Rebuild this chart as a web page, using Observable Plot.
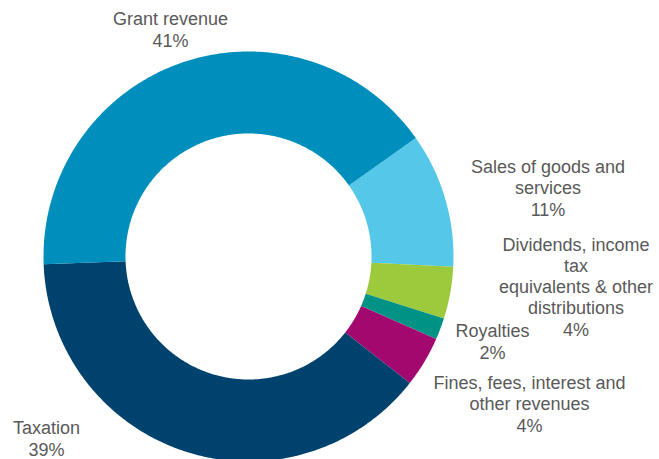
<!DOCTYPE html>
<html>
<head>
<meta charset="utf-8">
<script src="https://cdn.jsdelivr.net/npm/d3@7"></script>
<script src="https://cdn.jsdelivr.net/npm/@observablehq/plot@0.6"></script>
<style>
  html, body { margin: 0; padding: 0; background: #ffffff; }
  #chart svg { display: block; }
</style>
</head>
<body>
<div id="chart"></div>
<script>
// ---- Data (clockwise order starting at the Grant/Sales boundary) ----
const categories = [
  "Sales of goods and services",
  "Dividends, income tax equivalents & other distributions",
  "Royalties",
  "Fines, fees, interest and other revenues",
  "Taxation",
  "Grant revenue"
];
const shares = [10.6, 4.1, 1.7, 4.0, 38.8, 40.8];
const labelNames = [
  "Sales of goods and\nservices",
  "Dividends, income\ntax\nequivalents & other\ndistributions",
  "Royalties",
  "Fines, fees, interest and\nother revenues",
  "Taxation",
  "Grant revenue"
];
const colors = ["#55c7e8", "#9dc93c", "#009385", "#a3086f", "#00426e", "#008fbc"];

// ---- Layout ----
const W = 659, H = 459;
const cx = 248, cy = 256, rOuter = 205, rInner = 123;
const startDeg = 54.7;
// label anchor: [center x, baseline of last line] in pixels
const labelAnchor = [[547.5, 215], [575.5, 335], [492, 358], [529, 431], [46, 455], [170, 46]];

const total = d3.sum(shares);
let acc = 0;
const arcPts = [];
categories.forEach((c, i) => {
  const a0 = startDeg + acc / total * 360;
  acc += shares[i];
  const a1 = startDeg + acc / total * 360;
  const n = Math.max(2, Math.ceil((a1 - a0) / 0.5));
  for (let k = 0; k <= n; k++) {
    const a = (a0 + (a1 - a0) * k / n) * Math.PI / 180;
    arcPts.push({cat: c, x: cx + rOuter * Math.sin(a), y: cy - rOuter * Math.cos(a)});
  }
  for (let k = n; k >= 0; k--) {
    const a = (a0 + (a1 - a0) * k / n) * Math.PI / 180;
    arcPts.push({cat: c, x: cx + rInner * Math.sin(a), y: cy - rInner * Math.cos(a)});
  }
});

const labels = categories.map((c, i) => ({
  cat: c,
  text: labelNames[i] + "\n" + Math.round(shares[i]) + "%",
  x: labelAnchor[i][0],
  y: labelAnchor[i][1]
}));

const chart = Plot.plot({
  width: W,
  height: H,
  margin: 0,
  style: {background: "#ffffff", fontFamily: "'Liberation Sans', Arial, sans-serif"},
  x: {domain: [0, W], range: [0, W], axis: null},
  y: {domain: [0, H], range: [0, H], axis: null},
  color: {domain: categories, range: colors},
  marks: [
    Plot.line(arcPts, {x: "x", y: "y", z: "cat", fill: "cat", stroke: "none", curve: "linear"}),
    Plot.text(labels, {
      x: "x", y: "y", text: "text",
      lineAnchor: "bottom", textAnchor: "middle",
      fill: "#595959", fontSize: 18, lineHeight: 1.17,
      fontFamily: "'Liberation Sans', Arial, sans-serif"
    })
  ]
});
document.getElementById("chart").appendChild(chart);
</script>
</body>
</html>
